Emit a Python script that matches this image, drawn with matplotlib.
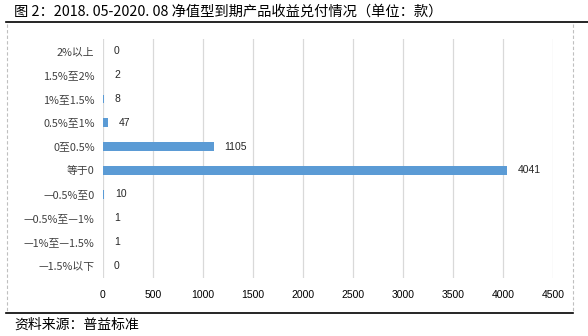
import matplotlib.pyplot as plt
from matplotlib.lines import Line2D

plt.rcParams['font.family'] = ['Noto Sans CJK SC', 'DejaVu Sans']

categories = ['2%以上', '1.5%至2%', '1%至1.5%', '0.5%至1%', '0至0.5%', '等于0',
              '—0.5%至0', '—0.5%至—1%', '—1%至—1.5%', '—1.5%以下']
counts = [0, 2, 8, 47, 1105, 4041, 10, 1, 1, 0]
xticks = [0, 500, 1000, 1500, 2000, 2500, 3000, 3500, 4000, 4500]

title = '图 2：2018. 05-2020. 08 净值型到期产品收益兑付情况（单位：款）'
source = '资料来源：普益标准'

W, H = 588, 336
fig = plt.figure(figsize=(W / 100, H / 100), dpi=100)

# axes area in pixels: x 103..553, y 39..278
ax = fig.add_axes([103 / W, 1 - 278 / H, 450 / W, 239 / H])
y = list(range(len(categories)))
ax.barh(y, counts, height=0.35, color='#5B9BD5', zorder=3)
ax.set_ylim(len(categories) - 0.5, -0.5)
ax.set_xlim(0, 4500)
ax.set_xticks(xticks)
ax.set_xticklabels([str(t) for t in xticks], family=['Liberation Sans'], fontsize=7.5)
ax.set_yticks(y)
ax.set_yticklabels(categories, fontsize=7.8, color='#404040')
ax.tick_params(axis='both', length=0)
ax.tick_params(axis='x', pad=9)
ax.tick_params(axis='y', pad=6)
ax.grid(axis='x', color='#D9D9D9', linewidth=0.9, zorder=0)
for s in ax.spines.values():
    s.set_visible(False)

for yi, v in zip(y, counts):
    ax.annotate(str(v), (v, yi), xytext=(8, 0), textcoords='offset points',
                va='center', ha='left', fontsize=7.5, family=['Liberation Sans'],
                color='#262626')

# title, frame lines, source
fig.text(14 / W, 1 - 12 / H, title, fontsize=10.3, va='center', ha='left')
fig.add_artist(Line2D([6 / W, 1], [1 - 22 / H] * 2, color='black', linewidth=1.2))
fig.add_artist(Line2D([7 / W] * 2, [1 - 24 / H, 1 - 312 / H], color='#BFBFBF',
                      linewidth=0.8, linestyle=(0, (3, 2))))
fig.add_artist(Line2D([573 / W] * 2, [1 - 24 / H, 1 - 312 / H], color='#BFBFBF',
                      linewidth=0.8, linestyle=(0, (3, 2))))
fig.add_artist(Line2D([6 / W, 573 / W], [1 - 313 / H] * 2, color='black', linewidth=1.2))
fig.text(14 / W, 1 - 325 / H, source, fontsize=10, va='center', ha='left')

fig.savefig('out.png', dpi=100)
